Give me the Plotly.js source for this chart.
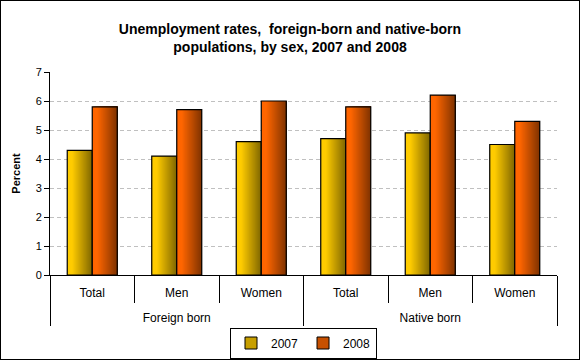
<!DOCTYPE html>
<html>
<head>
<meta charset="utf-8">
<script src="https://cdn.plot.ly/plotly-3.0.1.min.js"></script>
<style>
html,body{margin:0;padding:0;background:#fff;}
#wrap{position:relative;width:580px;height:360px;}
#chart{position:absolute;left:0;top:0;width:580px;height:360px;}
#frame{position:absolute;left:0;top:0;width:580px;height:360px;box-sizing:border-box;border:1px solid #000;pointer-events:none;}
</style>
</head>
<body>
<div id="wrap"><div id="chart"></div><div id="frame"></div></div>
<script>
// ---- data ----
var groups = ['Foreign born', 'Foreign born', 'Foreign born', 'Native born', 'Native born', 'Native born'];
var categories = ['Total', 'Men', 'Women', 'Total', 'Men', 'Women'];
var seriesNames = ['2007', '2008'];
var values2007 = [4.3, 4.1, 4.6, 4.7, 4.9, 4.5];
var values2008 = [5.8, 5.7, 6.0, 5.8, 6.2, 5.3];
var yTicks = [0, 1, 2, 3, 4, 5, 6, 7];

// ---- styling ----
var FONT = 'Liberation Sans, Arial, sans-serif';
// group labels sit one line lower (as in the reference)
var x = [groups.map(function (g) { return '<br>' + g; }), categories];
var barW = 0.296;
var N = 24;
var baseColors = [[255, 204, 0], [255, 102, 0]];

function shade(rgb, t) {
  // bright on the left, darker towards the right edge
  var f = t < 0.2 ? 1 : 1 - 0.5 * (t - 0.2) / 0.8;
  return 'rgb(' + rgb.map(function (c) { return Math.round(c * f); }).join(',') + ')';
}

var traces = [];
[values2007, values2008].forEach(function (vals, s) {
  var start = s === 0 ? -barW : 0;
  for (var i = 0; i < N; i++) {
    traces.push({
      type: 'bar', x: x, y: vals,
      width: barW - i * barW / N,
      offset: start + i * barW / N,
      marker: {color: shade(baseColors[s], (i + 0.5) / N), line: {width: 0}},
      showlegend: false, hoverinfo: 'skip'
    });
  }
  traces.push({
    type: 'bar', x: x, y: vals,
    width: barW, offset: start,
    marker: {color: 'rgba(0,0,0,0)', line: {color: '#000', width: 1.2}},
    showlegend: false, name: seriesNames[s]
  });
});
// legend entries
[0, 1].forEach(function (s) {
  traces.push({
    type: 'bar', x: [[x[0][0]], [categories[0]]], y: [null],
    name: seriesNames[s],
    marker: {color: shade(baseColors[s], 0.55), line: {color: '#000', width: 1}},
    showlegend: true
  });
});

var layout = {
  width: 580, height: 360,
  margin: {l: 50, r: 23, t: 72, b: 85, autoexpand: false},
  paper_bgcolor: '#fff', plot_bgcolor: '#fff',
  barmode: 'overlay',
  font: {family: FONT, color: '#000', size: 12},
  title: {
    text: '<b>Unemployment rates,  foreign-born and native-born<br>populations, by sex, 2007 and 2008</b>',
    font: {family: FONT, size: 14, color: '#000'},
    x: 0.5, xanchor: 'center', y: 0.905, yanchor: 'top'
  },
  xaxis: {
    type: 'multicategory', automargin: false,
    showline: true, linecolor: '#000', linewidth: 1,
    ticks: 'outside', tickson: 'boundaries', ticklen: 27, tickcolor: '#000', tickwidth: 1,
    ticklabelstandoff: 7,
    showdividers: true, dividercolor: '#000', dividerwidth: 1,
    tickfont: {family: FONT, size: 12, color: '#000'},
    showgrid: false, zeroline: false
  },
  yaxis: {
    automargin: false,
    range: [0, 7], tickvals: yTicks,
    showline: true, linecolor: '#000', linewidth: 1,
    ticks: 'outside', ticklen: 5, tickcolor: '#000',
    showgrid: true, gridcolor: '#C0C0C0', griddash: '4px,3px', gridwidth: 1,
    zeroline: false,
    tickfont: {family: FONT, size: 11, color: '#000'},
    title: {text: '<b>Percent</b>', font: {family: FONT, size: 11, color: '#000'}, standoff: 12}
  },
  legend: {
    orientation: 'h', x: 0.5, xanchor: 'center', y: -0.335, yanchor: 'middle',
    bordercolor: '#000', borderwidth: 1, bgcolor: '#fff',
    font: {family: FONT, size: 12, color: '#000'},
    traceorder: 'normal'
  },
  showlegend: true
};

Plotly.newPlot('chart', traces, layout, {displayModeBar: false, staticPlot: true});
</script>
</body>
</html>
